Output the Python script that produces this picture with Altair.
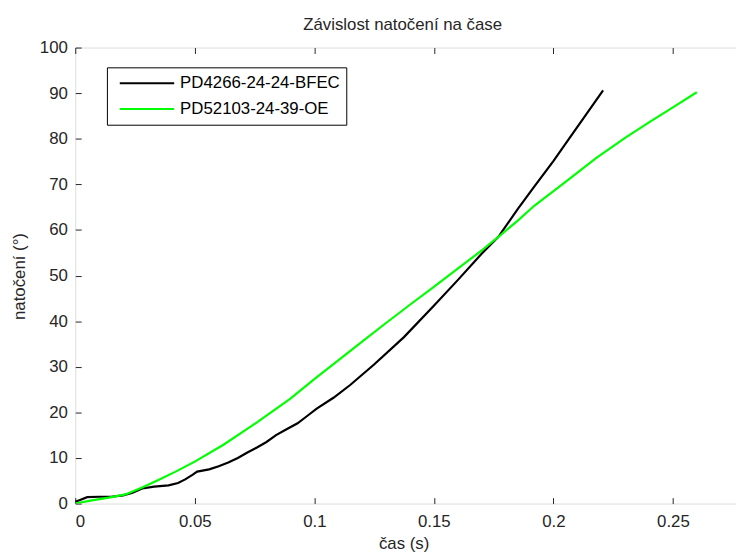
import altair as alt
import pandas as pd

series_names = ["PD4266-24-24-BFEC", "PD52103-24-39-OE"]
series_colors = ["#000000", "#00ff00"]

t_black = [0, 0.002, 0.005, 0.01, 0.015, 0.02, 0.024, 0.028, 0.033, 0.039, 0.043, 0.046,
           0.049, 0.051, 0.056, 0.06, 0.064, 0.068, 0.072, 0.076, 0.08, 0.084, 0.088,
           0.093, 0.097, 0.101, 0.108, 0.115, 0.125, 0.1375, 0.15, 0.16, 0.17, 0.177,
           0.185, 0.192, 0.2, 0.2063, 0.213, 0.2208]
v_black = [0.4, 0.8, 1.4, 1.5, 1.5, 1.8, 2.4, 3.3, 3.7, 4.0, 4.5, 5.3,
           6.3, 7.0, 7.5, 8.2, 9.0, 10.0, 11.2, 12.3, 13.5, 15.0, 16.2,
           17.6, 19.2, 20.8, 23.2, 26.0, 30.5, 36.5, 43.4, 49.0, 54.8, 58.5,
           64.5, 69.5, 75.1, 79.8, 84.8, 90.6]

t_green = [0, 0.007, 0.014, 0.021, 0.028, 0.035, 0.042, 0.05, 0.062, 0.076, 0.09, 0.1,
           0.11, 0.12, 0.13, 0.14, 0.15, 0.16, 0.17, 0.177, 0.185, 0.192, 0.2055, 0.218,
           0.23, 0.24, 0.25, 0.26]
v_green = [0, 0.7, 1.3, 2.0, 3.5, 5.2, 7.0, 9.2, 12.9, 17.8, 23.0, 27.3,
           31.4, 35.5, 39.6, 43.6, 47.5, 51.5, 55.5, 58.5, 62.0, 65.3, 70.7, 75.8,
           80.2, 83.6, 86.9, 90.2]

x_ticks = [0, 0.05, 0.1, 0.15, 0.2, 0.25]
y_ticks = [0, 10, 20, 30, 40, 50, 60, 70, 80, 90, 100]

df = pd.concat([
    pd.DataFrame({"t": t_black, "v": v_black, "serie": series_names[0], "o": range(len(t_black))}),
    pd.DataFrame({"t": t_green, "v": v_green, "serie": series_names[1], "o": range(len(t_green))}),
])

FONT = "Liberation Sans"
AX = "#262626"
FS = 17

x_scale = alt.Scale(domain=[0, 0.2764], nice=False, zero=False)
y_scale = alt.Scale(domain=[0, 100], nice=False)

lines = alt.Chart(df).mark_line(strokeWidth=2.2, clip=True).encode(
    x=alt.X("t:Q", scale=x_scale, axis=alt.Axis(
        orient="bottom", values=x_ticks, format="~g", offset=-6, tickSize=6,
        tickColor=AX, domain=False, grid=False, labelPadding=10,
        labelFont=FONT, labelFontSize=FS, labelColor=AX,
        title="čas (s)", titleFont=FONT, titleFontSize=FS, titleFontWeight="normal",
        titleColor=AX, titleX=332, titleY=51, titleBaseline="alphabetic")),
    y=alt.Y("v:Q", scale=y_scale, axis=alt.Axis(
        orient="left", values=y_ticks, offset=-6, tickSize=6, tickColor=AX,
        domain=False, grid=False, labelPadding=8,
        labelFont=FONT, labelFontSize=FS, labelColor=AX,
        title="natočení (°)", titleFont=FONT, titleFontSize=FS, titleFontWeight="normal",
        titleColor=AX, titleX=-57, titleY=231, titleBaseline="alphabetic")),
    color=alt.Color("serie:N", scale=alt.Scale(domain=series_names, range=series_colors),
                    sort=series_names,
                    legend=alt.Legend(
                        title="", orient="none", legendX=32, legendY=20,
                        symbolType="stroke", symbolSize=3025, symbolStrokeWidth=2,
                        clipHeight=20, rowPadding=6, padding=6, symbolOffset=6,
                        labelOffset=5, labelLimit=0, labelFont=FONT, labelFontSize=FS,
                        labelColor="#000000",
                        strokeColor="#000000", fillColor="#ffffff", cornerRadius=0)),
    order="o:Q",
)

top_ticks = alt.Chart(df).mark_line(opacity=0).encode(
    x=alt.X("t:Q", scale=x_scale, axis=alt.Axis(
        orient="top", values=x_ticks, offset=-6, tickSize=6, tickColor=AX,
        domain=False, grid=False, labels=False, title=None)),
    y=alt.Y("v:Q", scale=y_scale, axis=None),
    detail="serie:N",
)

chart = alt.layer(lines, top_ticks).resolve_axis(x="independent", y="independent").properties(
    width=668, height=461,
    autosize=alt.AutoSizeParams(type="none"),
    padding={"left": 68, "top": 37, "right": 0, "bottom": 48},
    title=alt.TitleParams("Závislost natočení na čase", font=FONT, fontSize=FS,
                          fontWeight="normal", color=AX, anchor="middle",
                          baseline="alphabetic", offset=15, dx=-3, dy=23),
).configure_view(stroke=AX, strokeWidth=1).configure(background="#ffffff")

chart.save("out.html", embed_options={"renderer": "svg", "actions": False})
